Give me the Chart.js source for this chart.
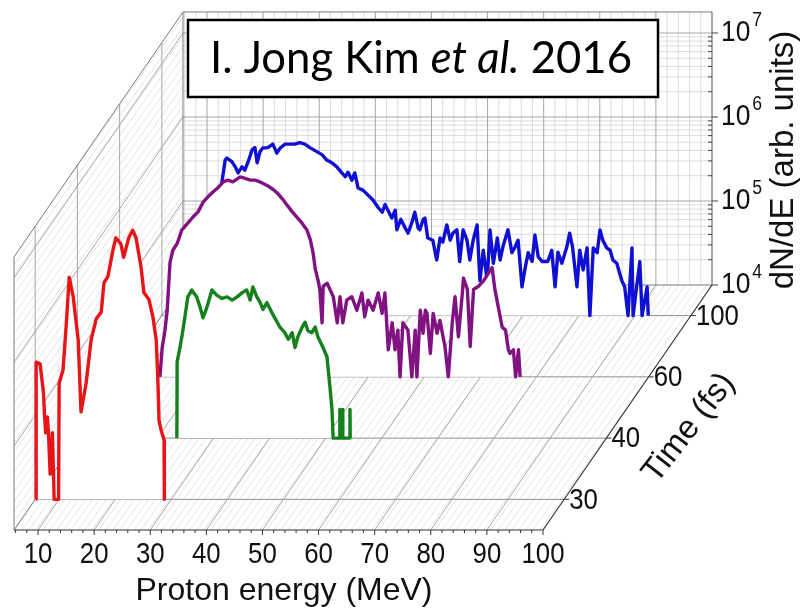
<!DOCTYPE html>
<html><head><meta charset="utf-8">
<script src="https://cdn.jsdelivr.net/npm/chart.js@4.4.0/dist/chart.umd.min.js"></script>
<style>html,body{margin:0;padding:0;background:#fff}#wrap{width:800px;height:609px;position:relative}</style>
</head><body><div id="wrap"><canvas id="c" width="800" height="609"></canvas></div>
<script>
// ---------- data ----------
const timeLabels = ['30', '40', '60', '100'];           // fs, depth categories
const energyTicks = [10, 20, 30, 40, 50, 60, 70, 80, 90, 100];
const decadeTicks = [4, 5, 6, 7];                      // 10^n
const energyTitle = 'Proton energy (MeV)';
const valueTitle = 'dN/dE (arb. units)';
const timeTitle = 'Time (fs)';

// 30 fs (red)
const redE = [5.88, 5.9, 6.6, 7.2, 7.4, 7.6, 7.9, 8.1, 8.4, 8.8, 9.0, 9.1, 9.9, 10.0, 10.7, 11.3, 11.8, 12.5, 13.4, 13.9,
  14.8, 15.7, 16.6, 17.5, 18.0, 18.7, 19.6, 20.1, 21.0, 21.5, 22.4, 23.1, 23.7, 24.6, 25.1, 26.0, 26.7, 27.3, 27.6, 27.8,
  28.2, 28.7, 28.75];
const redV = [1e4, 4.3e5, 4.1e5, 1.9e5, 1.0e5, 6.2e4, 9.6e4, 6.2e4, 2.0e4, 6.2e4, 2.0e4, 1e4, 1e4, 2.4e5, 3.5e5, 1.3e6, 4.4e6, 2.6e6, 7.9e5, 1.1e5,
  2.4e5, 7.9e5, 1.4e6, 1.7e6, 3.8e6, 4.5e6, 9.4e6, 1.3e7, 1.1e7, 7.6e6, 1.3e7, 1.6e7, 1.3e7, 5.8e6, 2.9e6, 2.4e6, 1.5e6, 7.9e5, 2.6e5, 8.7e4,
  6.6e4, 5.1e4, 1e4];

// 40 fs (green)
const greenE = [23.45, 23.5, 24.0, 24.4, 24.9, 25.4, 26.1, 27.0, 27.6, 28.1, 28.8, 29.7, 30.6, 31.5, 32.4, 33.3, 34.2, 35.1, 35.9, 36.5,
  37.0, 37.7, 38.3, 38.8, 39.5, 40.4, 40.9, 41.8, 42.7, 43.3, 44.0, 44.5, 45.0, 45.8, 46.3, 46.8, 47.5, 48.1, 48.6, 49.5,
  50.2, 50.7, 51.1, 51.3, 52.45, 52.5, 52.55, 52.95, 53.0, 53.05, 54.25, 54.3, 54.35];
const greenV = [1e4, 8.1e4, 1.2e5, 1.7e5, 2.8e5, 4.8e5, 5.8e5, 4.8e5, 3.6e5, 2.7e5, 3.6e5, 5.8e5, 5.0e5, 4.6e5, 4.8e5, 4.4e5, 4.8e5, 5.4e5, 5.8e5, 4.4e5,
  6.3e5, 4.8e5, 4.1e5, 3.4e5, 4.1e5, 3.1e5, 2.7e5, 2.1e5, 1.8e5, 1.5e5, 1.8e5, 1.2e5, 1.6e5, 2.1e5, 2.4e5, 1.9e5, 1.8e5, 2.1e5, 1.6e5, 1.2e5,
  9.3e4, 4.3e4, 2.2e4, 1e4, 1e4, 2.2e4, 1e4, 1e4, 2.2e4, 1e4, 1e4, 2.2e4, 1e4];

// 60 fs (purple)
const purpleE = [12.9, 13.3, 13.8, 14.2, 14.7, 15.2, 16.0, 16.8, 17.9, 18.8, 19.7, 20.6, 21.5, 22.4, 23.3, 24.2, 25.0, 25.9, 27.2, 28.1,
  29.0, 29.9, 30.7, 32.0, 33.1, 34.0, 34.8, 35.6, 36.5, 37.3, 38.2, 39.1, 39.7, 40.2, 40.6, 41.1, 41.4, 41.8, 42.0, 42.7,
  43.2, 43.8, 44.5, 45.0, 45.5, 46.2, 47.1, 48.0, 48.9, 49.4, 50.0, 50.9, 51.8, 52.5, 53.0, 53.6, 54.3, 54.8, 55.3, 55.7,
  56.2, 57.1, 57.8, 58.4, 58.7, 59.3, 59.8, 60.2, 60.5, 61.1, 61.6, 62.3, 62.8, 63.7, 64.3, 65.0, 65.5, 66.1, 66.8, 67.0,
  67.7, 68.2, 68.8, 69.7, 70.6, 71.4, 72.1, 72.6, 73.2, 73.9, 74.5, 75.0, 75.3, 75.9, 76.3, 76.8, 77.1];
const purpleV = [1e4, 2.2e4, 3.6e4, 6.2e4, 2.3e5, 3.2e5, 3.9e5, 5.6e5, 6.8e5, 8.0e5, 9.2e5, 1.2e6, 1.4e6, 1.6e6, 1.8e6, 2.1e6, 2.2e6, 2.1e6, 2.4e6, 2.3e6,
  2.2e6, 2.2e6, 2.1e6, 1.9e6, 1.7e6, 1.5e6, 1.3e6, 1.1e6, 9.2e5, 8.0e5, 6.8e5, 5.6e5, 4.3e5, 3.0e5, 1.9e5, 1.4e5, 1.1e5, 4.4e4, 1.2e5, 1.3e5,
  1.1e5, 9.0e4, 4.4e4, 9.0e4, 4.4e4, 8.2e4, 9.0e4, 6.2e4, 1.0e5, 5.2e4, 8.2e4, 6.2e4, 1.0e5, 5.7e4, 1.0e5, 2.1e4, 4.4e4, 2.1e4, 3.6e4, 1e4,
  4.4e4, 3.6e4, 1e4, 3.6e4, 1e4, 6.2e4, 3.3e4, 6.2e4, 5.7e4, 1.9e4, 5.7e4, 3.3e4, 4.7e4, 2.3e4, 1e4, 4.4e4, 9.0e4, 3.0e4, 1.0e5, 1.5e5,
  1.1e5, 2.3e4, 1.1e5, 1.2e5, 1.4e5, 1.7e5, 2.0e5, 1.1e5, 6.8e4, 3.9e4, 3.6e4, 2.1e4, 1.9e4, 2.1e4, 1e4, 2.1e4, 1e4];

// 100 fs (blue)
const blueE = [15.0, 15.8, 16.4, 17.0, 17.3, 18.2, 18.8, 19.3, 20.0, 20.5, 21.1, 21.8, 22.3, 22.7, 23.2, 23.7, 24.6, 25.5, 26.2, 26.8,
  27.7, 28.6, 29.4, 30.3, 31.2, 32.1, 33.4, 34.3, 35.1, 36.0, 36.9, 37.8, 38.4, 38.9, 39.6, 40.1, 40.7, 41.6, 42.5, 43.3,
  44.2, 45.0, 45.5, 46.0, 46.7, 47.3, 47.6, 48.3, 49.1, 49.6, 50.3, 50.8, 51.4, 51.7, 52.3, 52.6, 53.1, 54.0, 54.7, 55.3,
  55.8, 56.5, 57.1, 57.6, 58.3, 58.8, 59.4, 60.1, 60.6, 61.2, 61.9, 62.4, 63.0, 63.7, 64.2, 64.8, 65.5, 66.0, 66.5, 67.4,
  68.1, 68.7, 69.2, 69.9, 70.4, 71.0, 71.7, 72.2, 72.8, 73.5, 74.5, 75.2, 75.8, 76.3, 77.0, 77.9, 78.4, 78.9, 79.7, 80.2,
  80.8, 81.5, 82.0, 82.6, 83.3, 83.8, 84.3, 85.0, 85.6, 86.1, 86.8, 87.3, 87.7, 88.2, 88.8, 89.5, 89.7, 90.9, 91.3, 92.2, 92.4];
const blueV = [1e4, 2.0e5, 3.8e5, 7.1e5, 7.5e5, 6.8e5, 5.9e5, 5.0e5, 5.9e5, 5.4e5, 6.8e5, 9.4e5, 1.0e6, 6.6e5, 8.9e5, 9.9e5, 1.0e6, 1.1e6, 8.6e5, 9.9e5,
  1.1e6, 1.1e6, 1.1e6, 1.15e6, 1.1e6, 1.0e6, 8.9e5, 8.2e5, 7.1e5, 6.6e5, 5.9e5, 5.0e5, 4.5e5, 5.1e5, 4.1e5, 5.0e5, 3.3e5, 3.1e5, 2.7e5, 2.4e5,
  1.96e5, 1.7e5, 2.1e5, 1.8e5, 1.45e5, 1.8e5, 1.05e5, 1.4e5, 1.1e5, 9.6e4, 1.3e5, 1.7e5, 1.1e5, 1.05e5, 1.4e5, 1.45e5, 8.4e4, 7.9e4, 4.6e4, 8.4e4,
  7.5e4, 1.2e5, 7.9e4, 9.6e4, 1.05e5, 4.4e4, 1.05e5, 7.9e4, 4.6e4, 7.9e4, 1.2e5, 2.6e4, 6.0e4, 2.6e4, 1.05e5, 4.2e4, 8.4e4, 4.6e4, 6.6e4, 1.05e5,
  5.6e4, 6.6e4, 7.9e4, 2.2e4, 3.5e4, 5.6e4, 4.4e4, 9.1e4, 5.0e4, 4.4e4, 4.4e4, 6.0e4, 2.2e4, 5.7e4, 4.2e4, 6.6e4, 9.6e4, 6.6e4, 2.2e4, 6.0e4,
  3.5e4, 6.4e4, 1e4, 6.4e4, 5.6e4, 1.05e5, 7.9e4, 6.4e4, 6.0e4, 4.6e4, 4.2e4, 3.2e4, 2.6e4, 2.2e4, 1e4, 6.4e4, 1e4, 4.4e4, 1e4, 2.2e4, 1e4];

// ---------- projection (oblique 3D) ----------
const E_MIN = 5.72, E_MAX = 100, V_MIN = 1e4, V_MAX = 1.78e7;
const DEPTH = timeLabels.length;          // depth extent in category steps
const STEP_E = 7.53;                      // energy shift per depth step
const STEP_DEC = 0.7292;                  // decades shift per depth step
function proj(E, v, d) { return { x: E + d * STEP_E, y: v * Math.pow(10, d * STEP_DEC) }; }

const series = [
  { label: '30 fs', E: redE, V: redV, color: 'rgb(232,20,24)', idx: 0 },
  { label: '40 fs', E: greenE, V: greenV, color: 'rgb(22,128,28)', idx: 1 },
  { label: '60 fs', E: purpleE, V: purpleV, color: 'rgb(128,18,130)', idx: 2 },
  { label: '100 fs', E: blueE, V: blueV, color: 'rgb(16,16,210)', idx: 3 }
];

const FONT = '"Liberation Sans", Arial, sans-serif';

const framePlugin = {
  id: 'frame3d',
  beforeDatasetsDraw(chart) {
    const c = chart.ctx, sx = chart.scales.x, sy = chart.scales.y;
    const P = (E, v, d) => { const p = proj(E, v, d); return [sx.getPixelForValue(p.x), sy.getPixelForValue(p.y)]; };
    const seg = (a, b, col, w) => { c.beginPath(); c.moveTo(a[0], a[1]); c.lineTo(b[0], b[1]); c.strokeStyle = col; c.lineWidth = w || 1; c.stroke(); };
    const poly = pts => { c.beginPath(); c.moveTo(pts[0][0], pts[0][1]); for (let i = 1; i < pts.length; i++) c.lineTo(pts[i][0], pts[i][1]); c.closePath(); };
    c.save();
    const floor = [P(E_MIN, V_MIN, 0), P(E_MAX, V_MIN, 0), P(E_MAX, V_MIN, DEPTH), P(E_MIN, V_MIN, DEPTH)];
    const lwall = [P(E_MIN, V_MIN, 0), P(E_MIN, V_MIN, DEPTH), P(E_MIN, V_MAX, DEPTH), P(E_MIN, V_MAX, 0)];
    [floor, lwall].forEach(pg => {
      c.save(); poly(pg); c.clip();
      c.strokeStyle = 'rgba(200,200,200,0.5)'; c.lineWidth = 1;
      for (let x = -700; x < 900; x += 7) { c.beginPath(); c.moveTo(x, 620); c.lineTo(x + 440, 0); c.stroke(); }
      c.restore();
    });
    const minorC = '#dcdcdc', majorC = '#a6a6a6', edgeC = '#7a7a7a';
    // back wall grid
    for (let e = 6; e < E_MAX; e += 2) { if (e % 10 === 0) continue; seg(P(e, V_MIN, DEPTH), P(e, V_MAX, DEPTH), minorC); }
    for (let n = 4; n <= 7; n++) for (let k = 2; k <= 9; k++) { const v = k * Math.pow(10, n); if (v < V_MAX) seg(P(E_MIN, v, DEPTH), P(E_MAX, v, DEPTH), minorC); }
    energyTicks.forEach(e => { if (e < E_MAX) seg(P(e, V_MIN, DEPTH), P(e, V_MAX, DEPTH), majorC); });
    decadeTicks.forEach(n => { const v = Math.pow(10, n); if (v > V_MIN) seg(P(E_MIN, v, DEPTH), P(E_MAX, v, DEPTH), majorC); });
    // left wall grid
    timeLabels.forEach((t, i) => seg(P(E_MIN, V_MIN, i + 0.5), P(E_MIN, V_MAX, i + 0.5), majorC));
    decadeTicks.forEach(n => { const v = Math.pow(10, n); if (v > V_MIN) seg(P(E_MIN, v, 0), P(E_MIN, v, DEPTH), majorC); });
    // floor grid
    timeLabels.forEach((t, i) => seg(P(E_MIN, V_MIN, i + 0.5), P(E_MAX, V_MIN, i + 0.5), '#8e8e8e'));
    energyTicks.forEach(e => { if (e < E_MAX) seg(P(e, V_MIN, 0), P(e, V_MIN, DEPTH), majorC); });
    // edges
    seg(P(E_MIN, V_MIN, DEPTH), P(E_MAX, V_MIN, DEPTH), edgeC);
    seg(P(E_MIN, V_MAX, DEPTH), P(E_MAX, V_MAX, DEPTH), edgeC);
    seg(P(E_MIN, V_MIN, DEPTH), P(E_MIN, V_MAX, DEPTH), edgeC);
    seg(P(E_MAX, V_MIN, DEPTH), P(E_MAX, V_MAX, DEPTH), '#555');
    seg(P(E_MIN, V_MAX, 0), P(E_MIN, V_MAX, DEPTH), edgeC);
    seg(P(E_MIN, V_MIN, 0), P(E_MIN, V_MAX, 0), edgeC);
    seg(P(E_MIN, V_MIN, 0), P(E_MIN, V_MIN, DEPTH), edgeC);
    // axes
    seg(P(E_MIN, V_MIN, 0), P(E_MAX, V_MIN, 0), '#333', 1.2);
    seg(P(E_MAX, V_MIN, 0), P(E_MAX, V_MIN, DEPTH), '#333', 1.2);
    for (let e = 6; e <= E_MAX; e += 2) { const p = P(e, V_MIN, 0); seg(p, [p[0], p[1] + (e % 10 === 0 ? 5 : 3)], '#333'); }
    timeLabels.forEach((t, i) => { const p = P(E_MAX, V_MIN, i + 0.5); seg(p, [p[0] + 5, p[1]], '#333'); });
    for (let n = 4; n <= 7; n++) for (let k = 1; k <= 9; k++) {
      const v = k * Math.pow(10, n); if (v > V_MAX) continue;
      const p = P(E_MAX, v, DEPTH); seg(p, [p[0] + (k === 1 ? 6 : -4), p[1]], '#444');
    }
    c.restore();
  },
  afterDraw(chart) {
    const c = chart.ctx, sx = chart.scales.x, sy = chart.scales.y;
    const P = (E, v, d) => { const p = proj(E, v, d); return [sx.getPixelForValue(p.x), sy.getPixelForValue(p.y)]; };
    c.save();
    c.fillStyle = '#111';
    const tickFont = '30px ' + FONT;
    // energy tick labels
    c.font = tickFont; c.textAlign = 'center'; c.textBaseline = 'middle';
    energyTicks.forEach(e => { const p = P(e, V_MIN, 0); c.save(); c.translate(p[0], p[1] + 25); c.scale(0.86, 1); c.fillText(String(e), 0, 0); c.restore(); });
    c.font = '32px ' + FONT;
    c.fillText(energyTitle, 284, 591);
    // time labels
    c.font = tickFont; c.textAlign = 'left';
    timeLabels.forEach((t, i) => { const p = P(E_MAX, V_MIN, i + 0.5); c.save(); c.translate(p[0] + 5, p[1] + 1); c.scale(0.86, 1); c.fillText(t, 0, 0); c.restore(); });
    // decade labels
    decadeTicks.forEach(n => {
      const p = P(E_MAX, Math.pow(10, n), DEPTH);
      c.save(); c.translate(p[0] + 9, p[1]); c.scale(0.88, 1);
      c.font = tickFont; c.textAlign = 'left'; c.textBaseline = 'middle';
      c.fillText('10', 0, 0);
      const w = c.measureText('10').width;
      c.font = '20px ' + FONT;
      c.fillText(String(n), w + 2, -13);
      c.restore();
    });
    // y title
    c.save(); c.translate(784, 160); c.rotate(-Math.PI / 2);
    c.font = '33px ' + FONT; c.textAlign = 'center'; c.textBaseline = 'middle';
    c.fillText(valueTitle, 0, 0); c.restore();
    // time title
    const a = P(E_MAX, V_MIN, 0), b = P(E_MAX, V_MIN, DEPTH);
    c.save(); c.translate(689, 428); c.rotate(Math.atan2(b[1] - a[1], b[0] - a[0]) + 0.06);
    c.font = '33px ' + FONT; c.textAlign = 'center'; c.textBaseline = 'middle';
    c.fillText(timeTitle, 0, 0); c.restore();
    // citation box
    c.fillStyle = '#fff'; c.fillRect(188, 20, 470, 77);
    c.strokeStyle = '#000'; c.lineWidth = 2.5; c.strokeRect(188, 20, 470, 77);
    c.fillStyle = '#000'; c.textAlign = 'left'; c.textBaseline = 'alphabetic';
    const fN = '44px Lato, "Open Sans", sans-serif', fI = 'italic 44px Lato, "Open Sans", sans-serif';
    const parts = [['I. Jong Kim ', fN], ['et al.', fI], [' 2016', fN]];
    let tot = 0; parts.forEach(pt => { c.font = pt[1]; tot += c.measureText(pt[0]).width; });
    const s = 422 / tot;
    c.save(); c.translate(210, 73); c.scale(s, 1);
    let x = 0; parts.forEach(pt => { c.font = pt[1]; c.fillText(pt[0], x, 0); x += c.measureText(pt[0]).width; });
    c.restore();
    c.restore();
  }
};

const X_MIN = E_MIN - 14 / 5.611, X_MAX = X_MIN + 800 / 5.611;
const Y_MIN = Math.pow(10, 4 - 79 / 84), Y_MAX = Math.pow(10, 4 + 530 / 84);

new Chart(document.getElementById('c'), {
  type: 'line',
  data: {
    datasets: series.map(s => ({
      label: s.label,
      data: s.E.map((e, k) => proj(e, Math.max(s.V[k], V_MIN), s.idx + 0.5)),
      borderColor: s.color, borderWidth: 3.4, pointRadius: 0, tension: 0,
      borderJoinStyle: 'round',
      fill: { value: proj(0, V_MIN, s.idx + 0.5).y }, backgroundColor: '#ffffff'
    }))
  },
  options: {
    responsive: false, animation: false, events: [],
    layout: { padding: 0 },
    plugins: { legend: { display: false }, tooltip: { enabled: false }, title: { display: false } },
    scales: {
      x: { type: 'linear', min: X_MIN, max: X_MAX, bounds: 'data', display: false },
      y: { type: 'logarithmic', min: Y_MIN, max: Y_MAX, bounds: 'data', display: false }
    }
  },
  plugins: [framePlugin]
});
</script></body></html>
